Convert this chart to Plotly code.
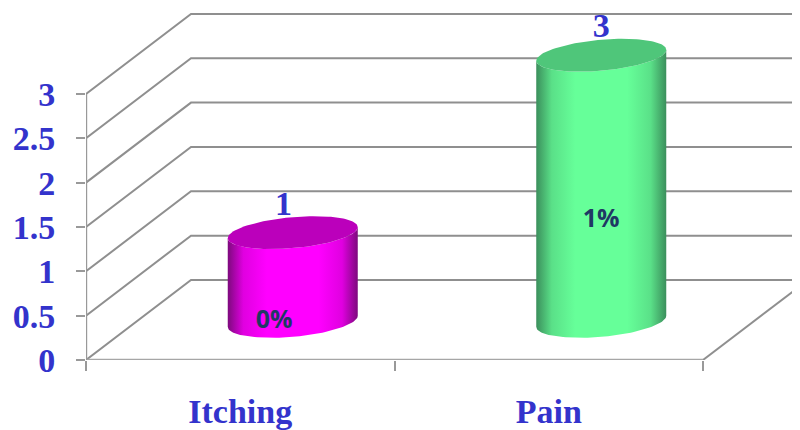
import numpy as np
import plotly.graph_objects as go

categories = ["Itching", "Pain"]
values = [1, 3]
value_labels = ["1", "3"]
percent_labels = ["0%", "1%"]
percent_heights = [-0.015, 1.12]
y_ticks = [0, 0.5, 1, 1.5, 2, 2.5, 3]
y_tick_labels = ["0", "0.5", "1", "1.5", "2", "2.5", "3"]

body_colors = ["#ff00ff", "#66ff99"]
edge_colors = ["#7d0a7d", "#3b8f5c"]
mid_colors = ["#e000e0", "#5ae088"]
top_colors = ["#bb00bb", "#4fc67a"]

BLUE = "#3333cc"
GRID = "#8f8f8f"
SERIF = "Liberation Serif"

# The page has an 8 px body margin, so the figure is 792x422 and starts at (8, 8)
W, H = 792, 422
L, B = 78, 70
XU, YU = 308.5, 88.7     # px per category, px per value unit
x_max = (W - L) / XU
y_max = (H - B) / YU
dx, dy = 105 / XU, 80 / YU        # depth of the 3-D box
rx, ry, shear = 65 / XU, 15.5 / YU, 5.5 / YU


def px(t, cx, cy):
    return cx + rx * np.cos(t), cy + shear * np.cos(t) + ry * np.sin(t)


fig = go.Figure()

# Walls: gridlines drawn from the value axis into the depth
for g in y_ticks:
    fig.add_trace(go.Scatter(x=[0, dx, x_max], y=[g, g + dy, g + dy], mode="lines",
                             line=dict(color=GRID, width=2), hoverinfo="skip"))
fig.add_trace(go.Scatter(x=[2, 2 + dx], y=[0, dy], mode="lines",
                         line=dict(color=GRID, width=2), hoverinfo="skip"))
fig.add_trace(go.Scatter(x=[0, 2], y=[0, 0], mode="lines",
                         line=dict(color="#a6a6a6", width=2.4), hoverinfo="skip"))
fig.add_trace(go.Scatter(x=[0, 0], y=[0, 3], mode="lines",
                         line=dict(color="#999999", width=2.4), hoverinfo="skip"))

# Cylinders
for i, v in enumerate(values):
    cx = i + 0.5 + dx / 2
    base = dy / 2 - 0.015
    tt = np.linspace(np.pi, 2 * np.pi, 61)       # lower half of the ellipse
    bx, by = px(tt, cx, base)
    ux, uy = px(tt[::-1], cx, base + v)
    scale = [[0, edge_colors[i]], [0.12, mid_colors[i]], [0.3, body_colors[i]],
             [0.7, body_colors[i]], [0.88, mid_colors[i]], [1, edge_colors[i]]]
    fig.add_trace(go.Scatter(x=np.r_[bx, ux], y=np.r_[by, uy], mode="lines",
                             fill="toself", line=dict(width=0),
                             fillgradient=dict(type="horizontal", colorscale=scale),
                             hoverinfo="skip"))
    ta = np.linspace(0, 2 * np.pi, 121)
    ex, ey = px(ta, cx, base + v)
    fig.add_trace(go.Scatter(x=ex, y=ey, mode="lines", fill="toself",
                             fillcolor=top_colors[i], line=dict(width=0),
                             hoverinfo="skip"))

# Labels
centers = [i + 0.5 + dx / 2 for i in range(len(categories))]
fig.add_trace(go.Scatter(x=[c - 0.03 if i == 0 else c for i, c in enumerate(centers)],
                         y=[v + dy / 2 + 0.285 for v in values],
                         mode="text", text=value_labels,
                         textfont=dict(family=SERIF, size=34, color=BLUE, weight="bold"),
                         hoverinfo="skip"))
fig.add_trace(go.Scatter(x=[centers[0] - 0.06, centers[1]],
                         y=[h + dy / 2 for h in percent_heights],
                         mode="text", text=percent_labels,
                         textfont=dict(family="Open Sans", size=25, color="#1f3864", weight="bold"),
                         hoverinfo="skip"))

fig.update_layout(
    width=W, height=H, autosize=False, showlegend=False,
    margin=dict(l=L, r=0, t=0, b=B, pad=0),
    paper_bgcolor="white", plot_bgcolor="white",
    xaxis=dict(range=[0, x_max], tickmode="array", tickvals=[0.5, 1.5], ticktext=categories,
               automargin=False,
               ticks="outside", ticklen=21, tickcolor="rgba(0,0,0,0)",
               tickfont=dict(family=SERIF, size=34, color=BLUE, weight="bold"),
               showgrid=False, zeroline=False, showline=False,
               minor=dict(tickmode="array", tickvals=[0, 1, 2], ticks="outside", ticklen=10,
                          tickwidth=2.4, tickcolor="#999999", showgrid=False)),
    yaxis=dict(range=[0, y_max], tickmode="array", tickvals=y_ticks, ticktext=y_tick_labels,
               automargin=False,
               ticks="outside", ticklen=9, tickwidth=2.4, tickcolor="#999999",
               ticklabelstandoff=14,
               tickfont=dict(family=SERIF, size=34, color=BLUE, weight="bold"),
               showgrid=False, zeroline=False, showline=False),
)
fig.write_html("out.html", config=dict(displayModeBar=False))
